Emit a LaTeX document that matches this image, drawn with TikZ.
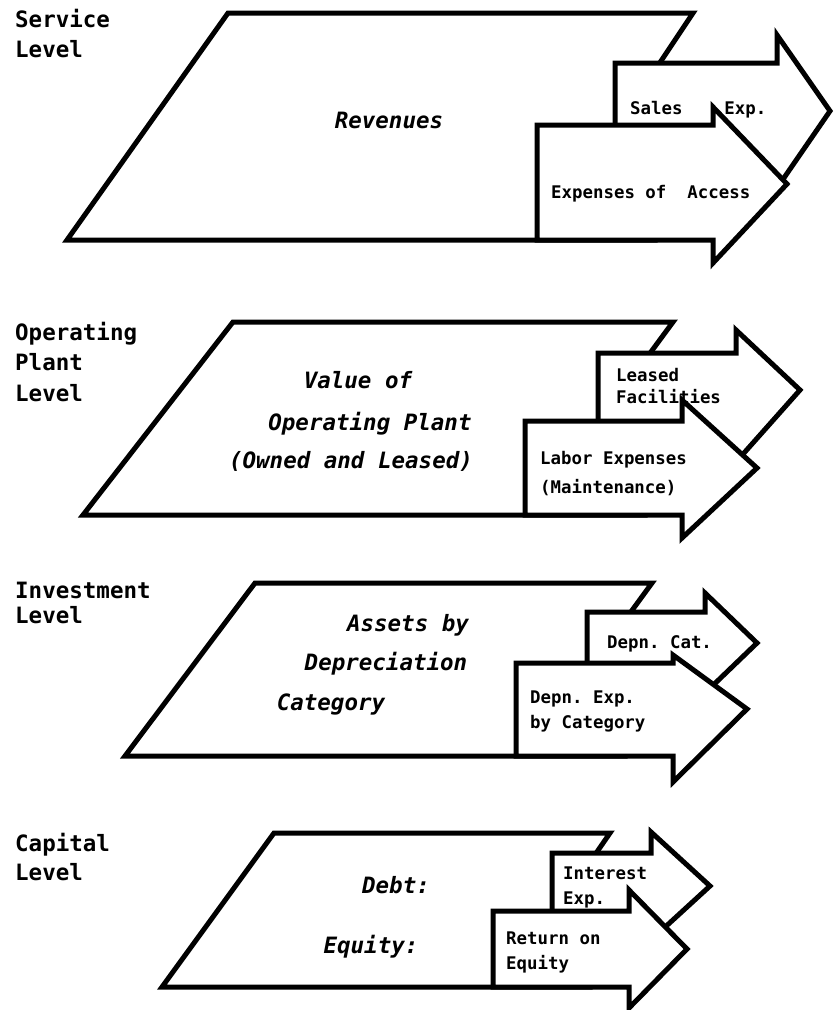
\documentclass[tikz,border=0pt]{standalone}
\usepackage{fontspec}
\newfontfamily\plotfont{DejaVu Sans Mono}
\begin{document}
\frenchspacing
\begin{tikzpicture}[x=1pt,y=-1pt,
  outline/.style={draw=black,fill=white,line width=5pt,line join=miter},
  lvl/.style={anchor=base west,inner sep=0pt,font=\plotfont\bfseries\fontsize{22.5}{27}\selectfont},
  body/.style={anchor=base,inner sep=0pt,font=\plotfont\bfseries\itshape\fontsize{22.5}{27}\selectfont},
  tag/.style={anchor=base west,inner sep=0pt,font=\plotfont\bfseries\fontsize{17.4}{21}\selectfont}]
\useasboundingbox (0,0) rectangle (835,1010);

% ---- Service level ----
\draw[outline] (228,13) -- (693,13) -- (655,70) -- (655,240) -- (67,240) -- cycle;
\draw[outline] (615,63) -- (777,63) -- (777,35) -- (830,111) -- (777,188) -- (777,180) -- (615,180) -- cycle;
\draw[outline] (537,125) -- (713,125) -- (713,107) -- (787,184) -- (713,263) -- (713,240) -- (537,240) -- cycle;
\node[lvl] (s1) at (15,27) {Service};
\node[lvl] (s2) at (15,57) {Level};
\node[body] (rev) at (389,128) {Revenues};
\node[tag] (sales) at (630,114) {Sales~~~~Exp.};
\node[tag] (access) at (551,198) {Expenses of~~Access};

% ---- Operating plant level ----
\draw[outline] (233,322) -- (673,322) -- (645,360) -- (645,515) -- (83,515) -- cycle;
\draw[outline] (598,353) -- (736,353) -- (736,330) -- (800,390) -- (736,462) -- (736,456) -- (598,456) -- cycle;
\draw[outline] (525,421) -- (682,421) -- (682,400) -- (757,468) -- (682,538) -- (682,515) -- (525,515) -- cycle;
\node[lvl] (o1) at (15,340) {Operating};
\node[lvl] (o2) at (15,370) {Plant};
\node[lvl] (o3) at (15,401) {Level};
\node[body] (val1) at (358,388) {Value of};
\node[body] (val2) at (370,430) {Operating Plant};
\node[body] (val3) at (351,468) {(Owned and Leased)};
\node[tag] (lease1) at (616,381) {Leased};
\node[tag] (lease2) at (616,403) {Facilities};
\node[tag] (labor1) at (540,464) {Labor Expenses};
\node[tag] (labor2) at (540,493) {(Maintenance)};

% ---- Investment level ----
\draw[outline] (255,583) -- (652,583) -- (625,620) -- (625,756) -- (125,756) -- cycle;
\draw[outline] (587,612) -- (705,612) -- (705,593) -- (757,643) -- (705,693) -- (705,686) -- (587,686) -- cycle;
\draw[outline] (516,663) -- (673,663) -- (673,655) -- (747,709) -- (673,782) -- (673,756) -- (516,756) -- cycle;
\node[lvl] (i1) at (15,598) {Investment};
\node[lvl] (i2) at (15,623) {Level};
\node[body] (ast1) at (408,631) {Assets by};
\node[body] (ast2) at (386,670) {Depreciation};
\node[body] (ast3) at (331,710) {Category};
\node[tag] (cat) at (607,648) {Depn. Cat.};
\node[tag] (dep1) at (530,703) {Depn. Exp.};
\node[tag] (dep2) at (530,728) {by Category};

% ---- Capital level ----
\draw[outline] (274,833) -- (610,833) -- (590,862) -- (590,987) -- (162,987) -- cycle;
\draw[outline] (552,853) -- (651,853) -- (651,832) -- (710,886) -- (651,940) -- (651,919) -- (552,919) -- cycle;
\draw[outline] (493,911) -- (629,911) -- (629,890) -- (687,949) -- (629,1008) -- (629,987) -- (493,987) -- cycle;
\node[lvl] (c1) at (15,851) {Capital};
\node[lvl] (c2) at (15,880) {Level};
\node[body] (debt) at (396,893) {Debt:};
\node[body] (eq) at (371,953) {Equity:};
\node[tag] (int1) at (563,879) {Interest};
\node[tag] (int2) at (563,904) {Exp.};
\node[tag] (roe1) at (506,944) {Return on};
\node[tag] (roe2) at (506,969) {Equity};
\end{tikzpicture}
\end{document}
